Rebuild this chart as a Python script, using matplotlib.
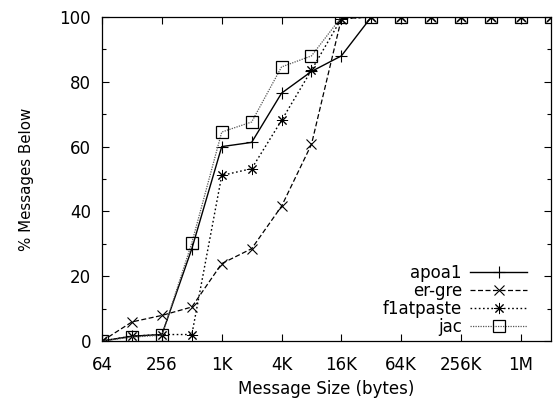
import numpy as np
import matplotlib
matplotlib.use("Agg")
import matplotlib.pyplot as plt
from matplotlib.ticker import FixedLocator, MultipleLocator

plt.rcParams['font.family'] = ['DejaVu Sans']

# message sizes in bytes: 64 .. 2M
sizes = [2 ** k for k in range(6, 22)]
apoa1 = [0, 1.5, 2, 28.5, 60, 61.3, 76.5, 83.2, 88, 100, 100, 100, 100, 100, 100, 100]
er_gre = [0, 5.9, 7.9, 10.5, 23.9, 28.5, 41.6, 60.7, 99.5, 100, 100, 100, 100, 100, 100, 100]
f1atpaste = [0, 1.5, 2, 2, 51.1, 53.2, 68.1, 83.6, 99.5, 100, 100, 100, 100, 100, 100, 100]
jac = [0, 1.2, 1.8, 30.3, 64.5, 67.6, 84.6, 88, 100, 100, 100, 100, 100, 100, 100, 100]

xticks = [64, 256, 1024, 4096, 16384, 65536, 262144, 1048576]
xticklabels = ['64', '256', '1K', '4K', '16K', '64K', '256K', '1M']

fig = plt.figure(figsize=(5.58, 4.05), dpi=100)
ax = fig.add_axes([0.183, 0.158, 0.804, 0.8])

asterisk = (8, 2, 0)
ax.plot(sizes, apoa1, color='black', lw=1.0, ls='-', marker='+', ms=8, mew=0.8, label='apoa1')
ax.plot(sizes, er_gre, color='black', lw=0.9, ls=(0, (4, 2)), marker='x', ms=7, mew=0.8, label='er-gre')
ax.plot(sizes, f1atpaste, color='black', lw=1.0, ls=(0, (1.2, 1.8)), marker=asterisk, ms=8, mew=0.7, label='f1atpaste')
ax.plot(sizes, jac, color='#555555', lw=0.9, ls=(0, (1, 1)), marker='s', ms=8, mew=0.9,
        mec='black', mfc='none', label='jac')

ax.set_xscale('log', base=2)
ax.set_xlim(64, 2 ** 21)
ax.set_ylim(0, 100)
ax.set_xticks(xticks)
ax.set_xticklabels(xticklabels)
ax.xaxis.set_minor_locator(FixedLocator([]))
ax.yaxis.set_major_locator(MultipleLocator(20))
ax.yaxis.set_minor_locator(MultipleLocator(10))

ax.tick_params(which='both', direction='in', top=True, right=True, labelsize=12, width=0.8)
ax.tick_params(which='major', length=5)
ax.tick_params(axis='x', which='major', pad=11)
ax.tick_params(axis='y', which='major', pad=8)
ax.tick_params(which='minor', length=3)
for s in ax.spines.values():
    s.set_linewidth(0.9)

ax.set_xlabel('Message Size (bytes)', fontsize=12, labelpad=4)
ax.set_ylabel('% Messages Below', fontsize=10.8, labelpad=18)

ax.legend(loc='lower right', frameon=False, markerfirst=False, fontsize=12,
          handlelength=3.4, labelspacing=0.0, handletextpad=0.5,
          borderpad=0, borderaxespad=0, bbox_to_anchor=(0.947, 0.017))

fig.savefig('out.png', dpi=100)
